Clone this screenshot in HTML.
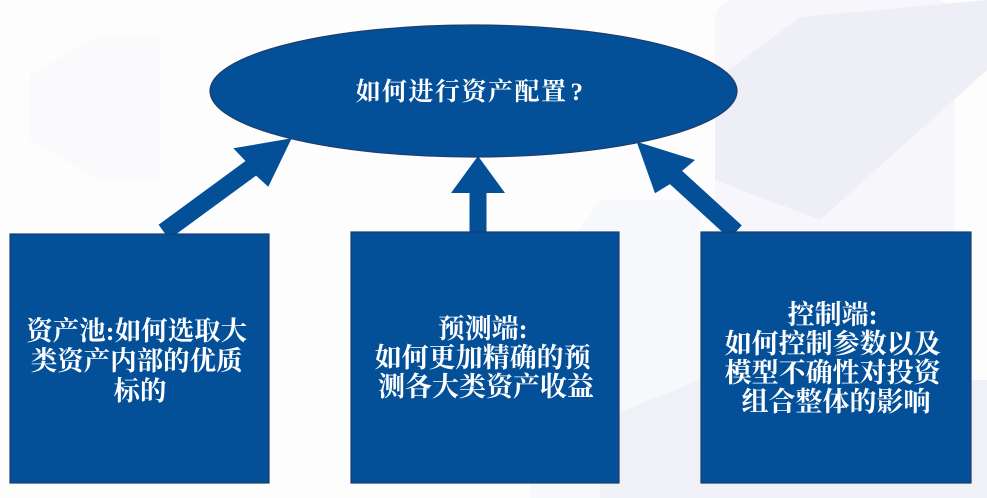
<!DOCTYPE html>
<html>
<head>
<meta charset="utf-8">
<style>
  html,body{margin:0;padding:0;background:#fdfdfe;}
  svg{display:block;}
  .t{font-family:"Liberation Serif","Noto Serif CJK SC",serif;font-weight:bold;fill:#ffffff;text-anchor:middle;}
</style>
</head>
<body>
<svg width="987" height="498" viewBox="0 0 987 498" xmlns="http://www.w3.org/2000/svg">
  <!-- faint background shapes -->
  <rect x="0" y="0" width="987" height="498" fill="#fdfdfe"/>
  <polygon points="30,75 100,35 160,35 160,180 100,180 30,140" fill="#fafafc"/>
  <rect x="715" y="0" width="240" height="498" rx="20" fill="#f7f7fb"/>
  <polygon points="715,80 800,17 987,0 987,70 820,220 715,180" fill="#eeeff6"/>
  <polygon points="530,300 600,200 700,200 700,498 530,498" fill="#f7f8fb"/>
  <polygon points="600,420 700,380 987,380 987,498 600,498" fill="#f0f1f7"/>

  <!-- arrows -->
  <polygon points="158.6,224.7 245.5,161.0 233.3,148.3 291.7,138.3 268.3,186.7 256.1,175.6 169.2,239.3" fill="#034f98"/>
  <polygon points="469.5,236 469.5,193 451,193 478,156 505,193 486.5,193 486.5,236" fill="#034f98"/>
  <polygon points="741.8,225.4 682.1,170.9 695,160 636.7,141.7 655,193.3 669.9,184.1 729.6,238.6" fill="#034f98"/>

  <!-- ellipse -->
  <ellipse cx="473.5" cy="91" rx="263.5" ry="66" fill="#034f98" stroke="#1d3d6b" stroke-width="1.2"/>
  <text class="t" x="470" y="100" font-size="25" letter-spacing="1.5">如何进行资产配置<tspan dx="3">?</tspan></text>

  <!-- boxes -->
  <rect x="10" y="234" width="259" height="249" fill="#034f98" stroke="#1d3d6b" stroke-width="1.2"/>
  <rect x="351" y="232" width="268" height="251" fill="#034f98" stroke="#1d3d6b" stroke-width="1.2"/>
  <rect x="701" y="232" width="270" height="251" fill="#034f98" stroke="#1d3d6b" stroke-width="1.2"/>

  <text class="t" font-size="26.5">
    <tspan x="140" y="340">资产池:如何选取大</tspan>
    <tspan x="140" y="370">类资产内部的优质</tspan>
    <tspan x="140" y="400">标的</tspan>
  </text>

  <text class="t" font-size="27">
    <tspan x="486" y="338">预测端:</tspan>
    <tspan x="486" y="367">如何更加精确的预</tspan>
    <tspan x="486" y="396">测各大类资产收益</tspan>
  </text>

  <text class="t" font-size="27">
    <tspan x="836" y="324">控制端:</tspan>
    <tspan x="836" y="353">如何控制参数以及</tspan>
    <tspan x="836" y="382">模型不确性对投资</tspan>
    <tspan x="836" y="411">组合整体的影响</tspan>
  </text>
</svg>
</body>
</html>
